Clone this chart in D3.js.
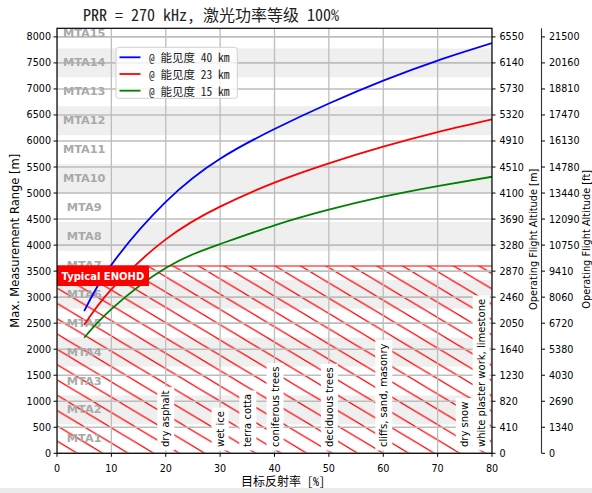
<!DOCTYPE html>
<html><head><meta charset="utf-8">
<script src="https://cdn.jsdelivr.net/npm/d3@7"></script>
<style>
html,body{margin:0;padding:0;background:#fff;}
svg{display:block;}
</style></head>
<body>
<svg id="chart" width="592" height="493"></svg>
<script>
// ---------- data ----------
const titleText = "PRR = 270 kHz, 激光功率等级 100%";
const xTicks = [0, 10, 20, 30, 40, 50, 60, 70, 80];
const yTicks = [0, 500, 1000, 1500, 2000, 2500, 3000, 3500, 4000, 4500, 5000, 5500, 6000, 6500, 7000, 7500, 8000];
const altMLabels = ["0","410","820","1230","1640","2050","2460","2870","3280","3690","4100","4510","4910","5320","5730","6140","6550"];
const altFtLabels = ["0","1340","2690","4030","5380","6720","8060","9410","10750","12090","13440","14780","16130","17470","18810","20160","21500"];
const reflectivity = [5, 10, 20, 30, 40, 50, 60, 70, 80];
const range40 = [2730, 3620, 4830, 5660, 6230, 6720, 7160, 7545, 7880];
const range23 = [2465, 3150, 4110, 4740, 5200, 5570, 5890, 6170, 6415];
const range15 = [2220, 2770, 3560, 4020, 4380, 4680, 4930, 5135, 5313];
const seriesNames = ["@ 能见度 40 km", "@ 能见度 23 km", "@ 能见度 15 km"];
const seriesColors = ["#0000ff", "#ff0000", "#008000"];
const mtaLabels = ["MTA1","MTA2","MTA3","MTA4","MTA5","MTA6","MTA7","MTA8","MTA9","MTA10","MTA11","MTA12","MTA13","MTA14","MTA15"];
const mtaZone = 555.6;          // metres per MTA zone
const enohd = 3600;             // typical ENOHD [m]
const materials = ["dry asphalt","wet ice","terra cotta","coniferous trees","deciduous trees","cliffs, sand, masonry","dry snow","white plaster work, limestone"];
const materialRefl = [20, 30, 35.1, 40.1, 50.1, 60.1, 74.9, 78];

// ---------- layout ----------
const svg = d3.select("#chart");
const L = 57, R = 492, T = 28.3, B = 453.3;
const x = d3.scaleLinear().domain([0, 80]).range([L, R]);
const y = d3.scaleLinear().domain([0, 8165]).range([B, T]);
const sans = "'DejaVu Sans', 'Noto Sans CJK SC', sans-serif";
const cjk = "'Noto Sans Mono CJK SC', 'Noto Sans CJK SC', 'DejaVu Sans', sans-serif";

svg.append("rect").attr("width", 592).attr("height", 493).attr("fill", "#fff");
svg.append("rect").attr("x", 0).attr("y", 488).attr("width", 592).attr("height", 5).attr("fill", "#ebebeb");

const defs = svg.append("defs");
defs.append("clipPath").attr("id", "plotclip").append("rect")
  .attr("x", L).attr("y", T).attr("width", R - L).attr("height", B - T);

// hatch pattern (diagonal "\\" lines)
const hw = 25.5, hh = 15.3;
const pat = defs.append("pattern").attr("id", "hatch").attr("patternUnits", "userSpaceOnUse")
  .attr("x", 0).attr("y", 9.06).attr("width", hw).attr("height", hh);
pat.append("path")
  .attr("d", `M-2,${-2*hh/hw} L${hw+2},${hh+2*hh/hw} M${hw-2},${-2*hh/hw} L${hw+2},${2*hh/hw} M-2,${hh-2*hh/hw} L2,${hh+2*hh/hw}`)
  .attr("stroke", "#ff0000").attr("stroke-width", 1.25).attr("fill", "none");

const plot = svg.append("g").attr("clip-path", "url(#plotclip)");

// MTA bands (even zones shaded)
const mtaData = mtaLabels.map((m, i) => ({ name: m, lo: i * mtaZone, hi: (i + 1) * mtaZone, shade: (i % 2 === 1) }));
plot.selectAll("rect.band").data(mtaData.filter(d => d.shade)).join("rect")
  .attr("class", "band")
  .attr("x", x(0)).attr("width", x(80) - x(0))
  .attr("y", d => y(d.hi)).attr("height", d => y(d.lo) - y(d.hi))
  .attr("fill", "#efefef");

// hatch region below ENOHD
plot.append("rect").attr("x", x(0)).attr("width", x(80) - x(0))
  .attr("y", y(enohd)).attr("height", y(0) - y(enohd)).attr("fill", "url(#hatch)");

// grid
plot.selectAll("line.gx").data(xTicks).join("line").attr("class", "gx")
  .attr("x1", d => x(d)).attr("x2", d => x(d)).attr("y1", T).attr("y2", B)
  .attr("stroke", "#bdbdbd").attr("stroke-width", 1.3);
plot.selectAll("line.gy").data(yTicks).join("line").attr("class", "gy")
  .attr("y1", d => y(d)).attr("y2", d => y(d)).attr("x1", L).attr("x2", R)
  .attr("stroke", "#bdbdbd").attr("stroke-width", 1.6);

// MTA labels
plot.selectAll("text.mta").data(mtaData).join("text").attr("class", "mta")
  .attr("x", x(5)).attr("y", d => y((d.lo + d.hi) / 2))
  .attr("text-anchor", "middle").attr("dominant-baseline", "central")
  .attr("font-family", sans).attr("font-weight", "bold").attr("font-size", 11.3)
  .attr("fill", "#a9a9a9").text(d => d.name);

// ENOHD line
plot.append("line").attr("x1", L).attr("x2", R).attr("y1", y(enohd)).attr("y2", y(enohd))
  .attr("stroke", "#ff0000").attr("stroke-opacity", 0.5).attr("stroke-width", 2);

// curves
const allSeries = [range40, range23, range15];
const line = d3.line().x((d, i) => x(reflectivity[i])).y(d => y(d)).curve(d3.curveNatural);
plot.selectAll("path.curve").data(allSeries).join("path").attr("class", "curve")
  .attr("d", d => line(d)).attr("fill", "none")
  .attr("stroke", (d, i) => seriesColors[i]).attr("stroke-width", 1.8);

// ENOHD label box
const eg = plot.append("g");
eg.append("rect").attr("x", L).attr("y", 265.5).attr("width", 92).attr("height", 20.5).attr("fill", "#ff0000");
eg.append("text").attr("x", L + 4.5).attr("y", 279.8).attr("font-family", sans).attr("font-weight", "bold")
  .attr("font-size", 10).attr("fill", "#fff").text("Typical ENOHD");

// material labels (rotated with white boxes)
const mg = plot.selectAll("g.mat").data(materials).join("g").attr("class", "mat")
  .attr("transform", (d, i) => `translate(${x(materialRefl[i])},447) rotate(-90)`);
mg.each(function (d) {
  const g = d3.select(this);
  const t = g.append("text").attr("x", 0).attr("y", 0).attr("dominant-baseline", "central")
    .attr("font-family", sans).attr("font-size", 10).attr("fill", "#000").text(d);
  const bb = t.node().getBBox();
  g.insert("rect", "text").attr("x", bb.x - 3.5).attr("y", bb.y - 3).attr("width", bb.width + 7).attr("height", bb.height + 6)
    .attr("fill", "#fff");
});

// spines
const ax = svg.append("g");
ax.append("rect").attr("x", L).attr("y", T).attr("width", R - L).attr("height", B - T)
  .attr("fill", "none").attr("stroke", "#000").attr("stroke-width", 1.2);

// left axis ticks
ax.selectAll("line.ly").data(yTicks).join("line").attr("class", "ly")
  .attr("x1", L - 3.5).attr("x2", L).attr("y1", d => y(d)).attr("y2", d => y(d)).attr("stroke", "#000");
ax.selectAll("text.ly").data(yTicks).join("text").attr("class", "ly")
  .attr("x", L - 6).attr("y", d => y(d)).attr("text-anchor", "end").attr("dominant-baseline", "central")
  .attr("font-family", sans).attr("font-size", 9.6).attr("fill", "#000").text(d => d);

// bottom axis
ax.selectAll("line.bx").data(xTicks).join("line").attr("class", "bx")
  .attr("x1", d => x(d)).attr("x2", d => x(d)).attr("y1", B).attr("y2", B + 3.5).attr("stroke", "#000");
ax.selectAll("text.bx").data(xTicks).join("text").attr("class", "bx")
  .attr("x", d => x(d)).attr("y", 471.5).attr("text-anchor", "middle")
  .attr("font-family", sans).attr("font-size", 9.6).attr("fill", "#000").text(d => d);

// right axis 1 (altitude m)
ax.selectAll("line.r1").data(yTicks).join("line").attr("class", "r1")
  .attr("x1", R).attr("x2", R + 3.5).attr("y1", d => y(d)).attr("y2", d => y(d)).attr("stroke", "#000");
ax.selectAll("text.r1").data(yTicks).join("text").attr("class", "r1")
  .attr("x", R + 7.5).attr("y", d => y(d)).attr("dominant-baseline", "central")
  .attr("font-family", sans).attr("font-size", 9.6).attr("fill", "#000").text((d, i) => altMLabels[i]);

// right axis 2 (altitude ft)
const R2 = 541.5;
ax.append("line").attr("x1", R2).attr("x2", R2).attr("y1", T).attr("y2", B).attr("stroke", "#333").attr("stroke-width", 1.1);
ax.selectAll("line.r2").data(yTicks).join("line").attr("class", "r2")
  .attr("x1", R2).attr("x2", R2 + 3.5).attr("y1", d => y(d)).attr("y2", d => y(d)).attr("stroke", "#000");
ax.selectAll("text.r2").data(yTicks).join("text").attr("class", "r2")
  .attr("x", R2 + 7.5).attr("y", d => y(d)).attr("dominant-baseline", "central")
  .attr("font-family", sans).attr("font-size", 9.6).attr("fill", "#000").text((d, i) => altFtLabels[i]);

// axis titles
const midY = (T + B) / 2;
svg.append("text").attr("transform", `translate(14.5,${midY}) rotate(-90)`).attr("text-anchor", "middle")
  .attr("dominant-baseline", "central").attr("font-family", sans).attr("font-size", 11.5).text("Max. Measurement Range [m]");
svg.append("text").attr("transform", `translate(533,${midY - 1.5}) rotate(-90)`).attr("text-anchor", "middle")
  .attr("dominant-baseline", "central").attr("font-family", sans).attr("font-size", 9.8).text("Operating Flight Altitude [m]");
svg.append("text").attr("transform", `translate(586.5,${midY - 1.5}) rotate(-90)`).attr("text-anchor", "middle")
  .attr("dominant-baseline", "central").attr("font-family", sans).attr("font-size", 9.8).text("Operating Flight Altitude [ft]");
svg.append("text").attr("x", 283).attr("y", 486).attr("text-anchor", "middle")
  .attr("font-family", cjk).attr("font-size", 12).text("目标反射率 [%]");
svg.append("text").attr("x", 83).attr("y", 21).attr("font-family", cjk).attr("font-size", 16)
  .attr("fill", "#222").text(titleText);

// legend
const lg = svg.append("g");
lg.append("rect").attr("x", 116).attr("y", 47.3).attr("width", 121.3).attr("height", 51)
  .attr("rx", 2.5).attr("fill", "#fff").attr("fill-opacity", 0.8).attr("stroke", "#d0d0d0").attr("stroke-width", 1);
const li = lg.selectAll("g.li").data(seriesNames).join("g").attr("class", "li")
  .attr("transform", (d, i) => `translate(0,${57.3 + i * 16.7})`);
li.append("line").attr("x1", 119.5).attr("x2", 140.5).attr("y1", 0).attr("y2", 0)
  .attr("stroke", (d, i) => seriesColors[i]).attr("stroke-width", 1.8);
li.append("text").attr("x", 149).attr("y", 0).attr("dominant-baseline", "central")
  .attr("font-family", cjk).attr("font-size", 11.5).attr("fill", "#222").text(d => d);
</script>
</body></html>
